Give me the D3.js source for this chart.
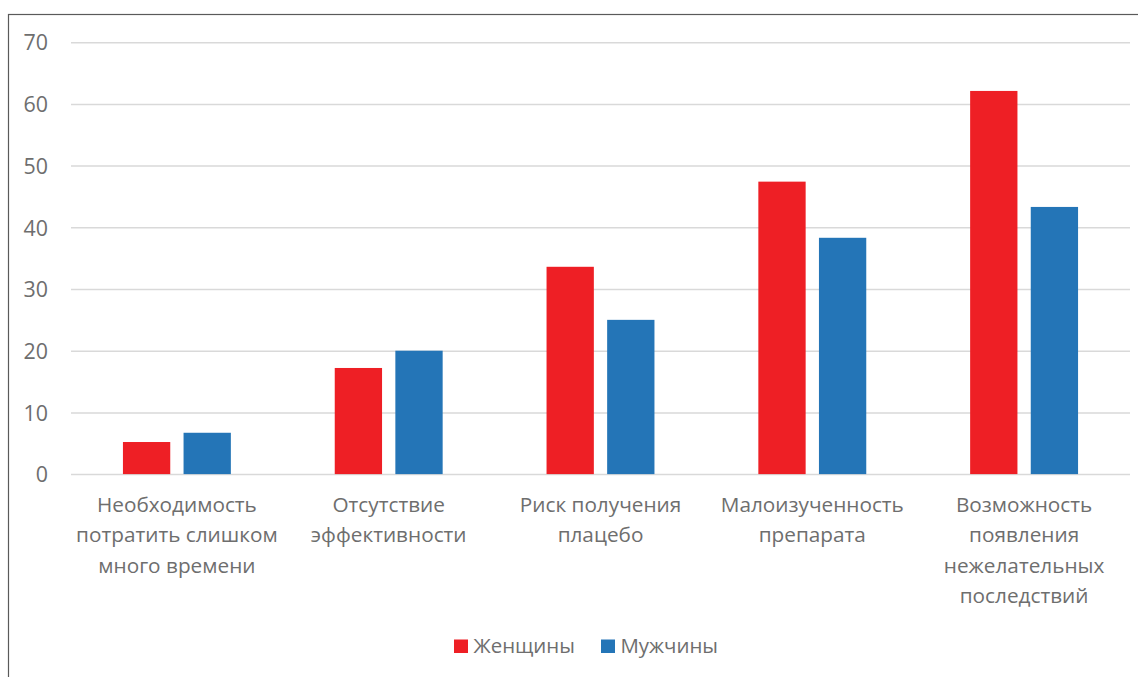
<!DOCTYPE html>
<html>
<head>
<meta charset="utf-8">
<script src="https://d3js.org/d3.v7.min.js"></script>
<style>
  html, body { margin: 0; padding: 0; background: #fff; }
  svg { display: block; }
</style>
</head>
<body>
<svg id="chart" width="1138" height="677"></svg>
<script>
// ---- data ----
const categories = [
  ["Необходимость", "потратить слишком", "много времени"],
  ["Отсутствие", "эффективности"],
  ["Риск получения", "плацебо"],
  ["Малоизученность", "препарата"],
  ["Возможность", "появления", "нежелательных", "последствий"]
];
const seriesNames = ["Женщины", "Мужчины"];
const women = [5.2, 17.2, 33.6, 47.4, 62.1];
const men   = [6.7, 20.0, 25.0, 38.3, 43.3];
const yTicks = [0, 10, 20, 30, 40, 50, 60, 70];
const colors = ["#EE1F25", "#2475B7"];

// ---- layout ----
const W = 1138, H = 677;
const plot = { left: 71, right: 1130, top: 42.2, bottom: 474.1 };
const textColor = "#6e6e6e";
const fontFamily = "'Open Sans', 'Noto Sans', sans-serif";

const svg = d3.select("#chart");

// frame (only top & left visible)
svg.append("rect")
  .attr("x", 8.5).attr("y", 14.5)
  .attr("width", W + 10).attr("height", H + 10)
  .attr("fill", "none").attr("stroke", "#5a5a5a").attr("stroke-width", 1.2);

function fitSize(str, targetWidth) {
  const t = svg.append("text").attr("font-family", fontFamily).attr("font-size", 100).text(str);
  const w = t.node().getComputedTextLength();
  t.remove();
  return 100 * targetWidth / w;
}
const catFont = fitSize("Необходимость", 160);
const tickFont = fitSize("70", 24.5);
const legendFont = fitSize("Женщины", 101.5);

const x = d3.scaleBand()
  .domain(d3.range(categories.length))
  .range([plot.left, plot.right])
  .paddingInner(0).paddingOuter(0);

const xInner = d3.scaleBand()
  .domain(seriesNames)
  .range([0, x.bandwidth()])
  .paddingInner(0.2195)
  .paddingOuter(0.857);

const y = d3.scaleLinear().domain([0, 70]).range([plot.bottom, plot.top]);

// gridlines
const yAxis = d3.axisLeft(y)
  .tickValues(yTicks)
  .tickSize(-(plot.right - plot.left))
  .tickPadding(23)
  .tickFormat(d3.format("d"));

const gAxis = svg.append("g")
  .attr("transform", `translate(${plot.left},0)`)
  .call(yAxis);
gAxis.select(".domain").remove();
gAxis.selectAll(".tick line")
  .attr("stroke", "#d9d9d9").attr("stroke-width", 1.5);
gAxis.selectAll(".tick text")
  .attr("fill", textColor)
  .attr("font-family", fontFamily)
  .attr("font-size", tickFont)
  .attr("dy", "0.36em");

// bars
const seriesData = [women, men];
seriesData.forEach((vals, si) => {
  svg.append("g").selectAll("rect")
    .data(vals)
    .join("rect")
    .attr("x", (d, i) => x(i) + xInner(seriesNames[si]))
    .attr("y", d => y(d))
    .attr("width", xInner.bandwidth())
    .attr("height", d => y(0) - y(d))
    .attr("fill", colors[si]);
});

// category labels
const catG = svg.append("g");
categories.forEach((lines, i) => {
  const t = catG.append("text")
    .attr("text-anchor", "middle")
    .attr("fill", textColor)
    .attr("font-family", fontFamily)
    .attr("font-size", catFont);
  lines.forEach((ln, j) => {
    t.append("tspan")
      .attr("x", x(i) + x.bandwidth() / 2)
      .attr("y", 512 + j * 30.4)
      .text(ln);
  });
});

// legend
const legendItems = [
  { name: seriesNames[0], color: colors[0], sx: 454 },
  { name: seriesNames[1], color: colors[1], sx: 601 }
];
const lg = svg.append("g");
legendItems.forEach(it => {
  lg.append("rect")
    .attr("x", it.sx).attr("y", 639.5)
    .attr("width", 14).attr("height", 13.5)
    .attr("fill", it.color);
  lg.append("text")
    .attr("x", it.sx + 19.5).attr("y", 653)
    .attr("fill", textColor)
    .attr("font-family", fontFamily)
    .attr("font-size", legendFont)
    .text(it.name);
});
</script>
</body>
</html>
